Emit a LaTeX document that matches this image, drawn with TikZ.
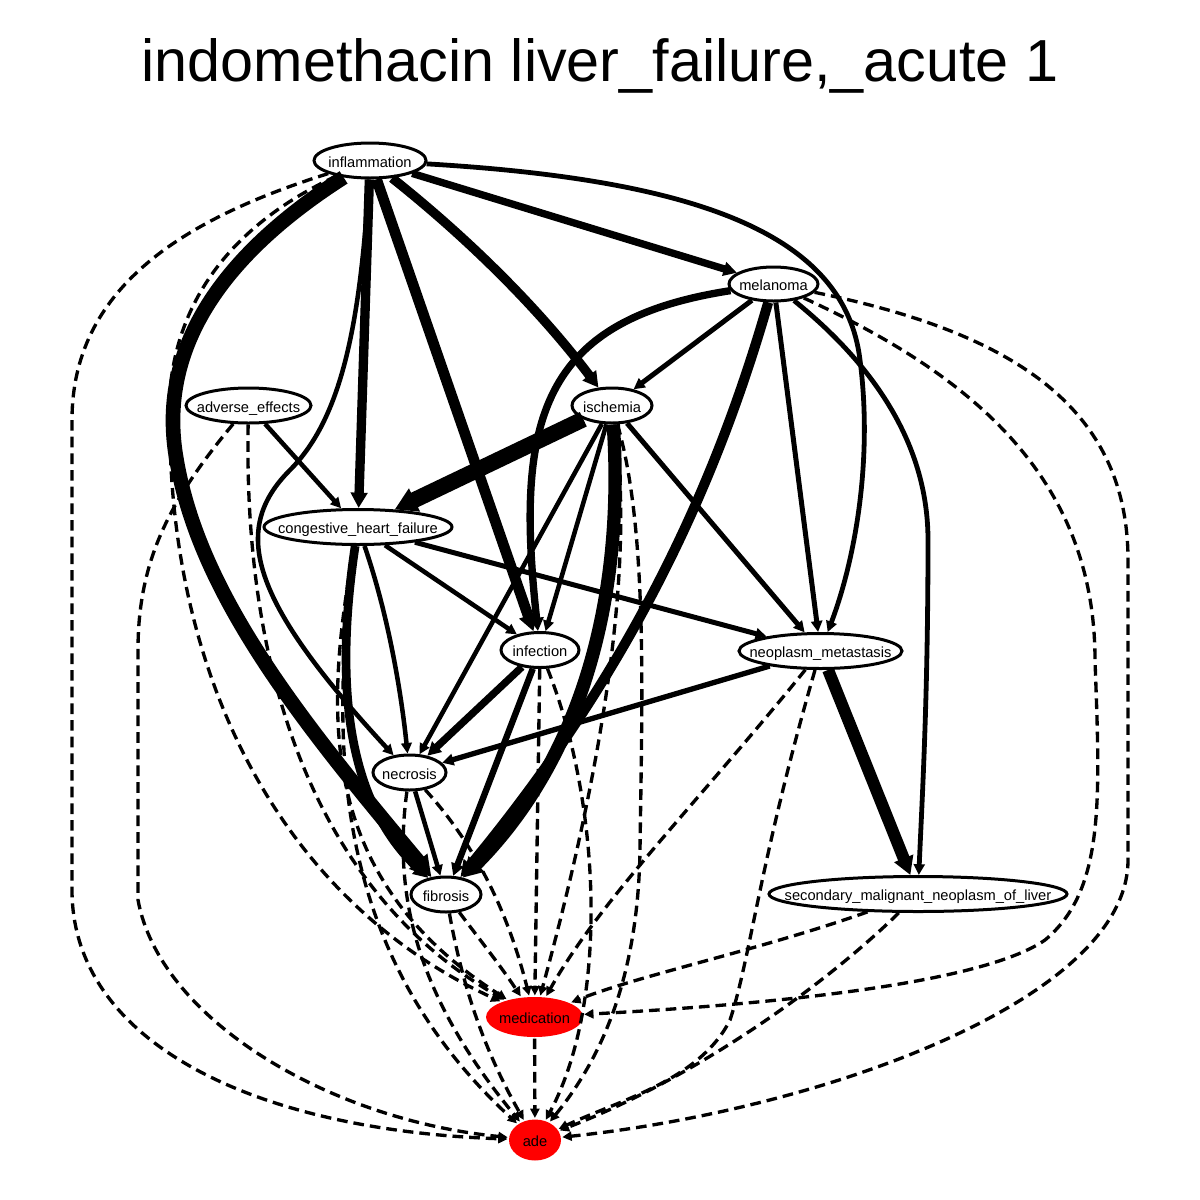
\documentclass[tikz,border=0pt]{standalone}
\usepackage{fontspec}
\setmainfont{Liberation Sans}
\usetikzlibrary{shapes.geometric,arrows.meta}
\begin{document}
\begin{tikzpicture}[x=0.75pt,y=-0.75pt,
  disease/.style={ellipse,draw,line width=2.25pt,inner sep=0pt,minimum height=26.25pt,
    font=\fontsize{11}{13}\selectfont,text height=9.8pt,text depth=0pt,
    execute at begin node={\hbox to 0pt\bgroup\hss},execute at end node={\hss\egroup}},
  drug/.style={disease,draw=none,fill=red,minimum height=30pt},
  assoc/.style={line width=#1,-{Triangle[length=4.5pt 1,width=3.75pt 1.2]}},
  risk/.style={line width=2.5pt,dash pattern=on 8pt off 4.5pt,-{Triangle[length=4.5pt 1,width=3.75pt 1.2]}}]
\useasboundingbox (0,0) rectangle (1200,1200);
\draw (600,81) node[anchor=base,font=\fontsize{44.5}{50}\selectfont] (title) {indomethacin liver\_failure,\_acute 1};

\draw (370,160.5) node[disease,minimum width=84pt] (inflammation) {inflammation};
\draw (773.5,284) node[disease,minimum width=66.75pt,minimum height=25.5pt] (melanoma) {melanoma};
\draw (248.5,405.5) node[disease,minimum width=93.75pt] (adverse) {adverse\_effects};
\draw (612,405.5) node[disease,minimum width=60pt] (ischemia) {ischemia};
\draw (358,527) node[disease,minimum width=141pt] (chf) {congestive\_heart\_failure};
\draw (540,650) node[disease,minimum width=58.5pt] (infection) {infection};
\draw (820.5,651) node[disease,minimum width=122.25pt] (metastasis) {neoplasm\_metastasis};
\draw (409.5,772.5) node[disease,minimum width=54.75pt] (necrosis) {necrosis};
\draw (446,894.5) node[disease,minimum width=52.5pt] (fibrosis) {fibrosis};
\draw (918,894) node[disease,minimum width=223.5pt] (secondary) {secondary\_malignant\_neoplasm\_of\_liver};
\draw (534.5,1017) node[drug,minimum width=72.75pt] (medication) {medication};
\draw (535,1140) node[drug,minimum width=39pt,minimum height=30.75pt] (ade) {ade};

\draw[assoc=11pt] (inflammation) .. controls (230,250) and (160,340) .. (175,450) .. controls (195,590) and (300,720) .. (fibrosis);
\draw[assoc=7pt] (inflammation) -- (chf);
\draw[assoc=8pt] (inflammation) -- (infection);
\draw[assoc=7pt] (inflammation) .. controls (470,240) and (540,310) .. (ischemia);
\draw[assoc=5.5pt] (inflammation) -- (melanoma);
\draw[assoc=3.6pt] (inflammation) .. controls (700,180) and (845,235) .. (860,360) .. controls (873,460) and (855,560) .. (metastasis);
\draw[assoc=3.4pt] (inflammation) .. controls (360,330) and (340,420) .. (290,470) .. controls (230,530) and (250,600) .. (necrosis);
\draw[risk] (inflammation) .. controls (220,230) and (160,320) .. (170,440) .. controls (175,680) and (280,900) .. (medication);
\draw[risk] (inflammation) .. controls (180,220) and (72,290) .. (72,420) -- (72,890) .. controls (72,1040) and (250,1130) .. (ade);

\draw[assoc=5.5pt] (melanoma) .. controls (540,320) and (515,420) .. (infection);
\draw[assoc=3.75pt] (melanoma) -- (ischemia);
\draw[assoc=7.5pt] (melanoma) .. controls (720,470) and (640,660) .. (fibrosis);
\draw[assoc=3.75pt] (melanoma) -- (metastasis);
\draw[assoc=3.6pt] (melanoma) .. controls (880,370) and (928,450) .. (928,540) .. controls (928,700) and (922,800) .. (secondary);
\draw[risk] (melanoma) .. controls (960,370) and (1095,470) .. (1095,660) .. controls (1100,800) and (1105,890) .. (1045,940) .. controls (980,985) and (760,1005) .. (medication);
\draw[risk] (melanoma) .. controls (1000,330) and (1128,400) .. (1128,560) -- (1128,860) .. controls (1128,1000) and (820,1110) .. (ade);

\draw[assoc=12pt] (ischemia) -- (chf);
\draw[assoc=10pt] (ischemia) .. controls (625,600) and (580,760) .. (fibrosis);
\draw[assoc=3.4pt] (ischemia) -- (infection);
\draw[assoc=3.4pt] (ischemia) -- (necrosis);
\draw[assoc=3.75pt] (ischemia) -- (metastasis);
\draw[risk] (ischemia) .. controls (640,600) and (580,850) .. (medication);
\draw[risk] (ischemia) .. controls (648,530) and (642,700) .. (640,850) .. controls (638,980) and (600,1060) .. (ade);

\draw[assoc=3.4pt] (adverse) -- (chf);
\draw[risk] (adverse) .. controls (243,700) and (330,900) .. (medication);
\draw[risk] (adverse) .. controls (170,500) and (138,560) .. (138,650) -- (138,900) .. controls (160,1020) and (330,1120) .. (ade);

\draw[assoc=3.4pt] (chf) -- (infection);
\draw[assoc=3.75pt] (chf) -- (metastasis);
\draw[assoc=3.4pt] (chf) .. controls (390,620) and (402,700) .. (necrosis);
\draw[assoc=6.5pt] (chf) .. controls (335,680) and (345,800) .. (fibrosis);
\draw[risk] (chf) .. controls (322,720) and (320,880) .. (medication);
\draw[risk] (chf) .. controls (325,760) and (340,960) .. (ade);

\draw[assoc=5.5pt] (infection) -- (necrosis);
\draw[assoc=4.75pt] (infection) -- (fibrosis);
\draw[risk] (infection) -- (medication);
\draw[risk] (infection) .. controls (600,800) and (610,1000) .. (ade);

\draw[assoc=4pt] (metastasis) -- (necrosis);
\draw[assoc=9pt] (metastasis) -- (secondary);
\draw[risk] (metastasis) .. controls (700,800) and (600,900) .. (medication);
\draw[risk] (metastasis) .. controls (760,860) and (750,960) .. (730,1020) .. controls (700,1080) and (620,1100) .. (ade);

\draw[assoc=3.4pt] (necrosis) -- (fibrosis);
\draw[risk] (necrosis) .. controls (480,850) and (510,920) .. (medication);
\draw[risk] (necrosis) .. controls (392,900) and (420,1000) .. (ade);

\draw[risk] (fibrosis) .. controls (480,940) and (500,965) .. (medication);
\draw[risk] (fibrosis) .. controls (465,1000) and (490,1060) .. (ade);

\draw[risk] (secondary) .. controls (760,950) and (640,975) .. (medication);
\draw[risk] (secondary) .. controls (820,990) and (690,1080) .. (ade);

\draw[risk] (medication) -- (ade);
\end{tikzpicture}
\end{document}
